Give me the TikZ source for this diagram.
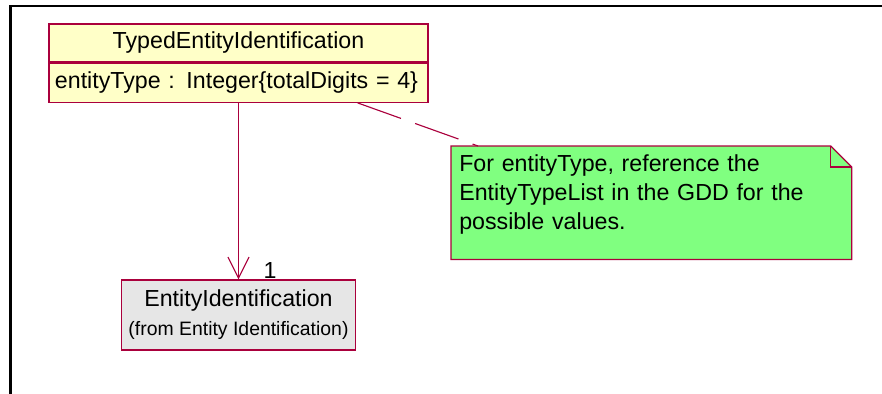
\documentclass[tikz,border=0pt]{standalone}
\usepackage[table]{xcolor}
\usepackage{tikz}
\usepackage{fontspec}
\setmainfont{Liberation Sans}
\usetikzlibrary{arrows,arrows.meta,backgrounds,calc,positioning,fit}
\definecolor{umlred}{RGB}{170,0,60}
\definecolor{classyellow}{RGB}{255,255,200}
\definecolor{notegreen}{RGB}{128,255,128}
\definecolor{pkggrey}{RGB}{230,230,230}

\begin{document}
\begin{tikzpicture}[x=0.025cm,y=-0.025cm,
  umlfont/.style={font=\fontsize{16.5}{20.6}\selectfont},
  classbox/.style={draw=umlred,line width=0.9pt,fill=classyellow,minimum width=9.475cm,inner sep=0pt,umlfont},
  entbox/.style={draw=umlred,line width=0.9pt,fill=pkggrey,minimum width=5.85cm,minimum height=1.75cm,inner sep=0pt,align=center,umlfont},
  assoc/.style={draw=umlred,line width=0.8pt,-{Straight Barb[length=0.525cm,width=0.525cm]}},
  notebox/.style={minimum width=10cm,minimum height=2.825cm,inner sep=0pt},
  noteline/.style={draw=umlred,line width=0.9pt},
  notetext/.style={inner sep=0pt,text width=9.6cm,align=left,umlfont},
  notelink/.style={draw=umlred,line width=0.8pt,dash pattern=on 1.15cm off 0.375cm}]
\useasboundingbox (0,0) rectangle (882,394);
\draw[line width=2pt] (882,6) -- (10.5,6) -- (10.5,394);
\node[classbox,minimum height=0.95cm] (title) at (238.5,43) {TypedEntityIdentification};
\node[classbox,minimum height=0.975cm,anchor=north,text width=9.175cm,align=left,inner xsep=0.15cm] (attr) at (title.south) {entityType : Integer\{totalDigits = 4\}};
\node[entbox] (ent) at (238.5,315) {EntityIdentification\\{\fontsize{13.8}{16}\selectfont (from Entity Identification)}};
\draw[assoc] (attr.south) -- (ent.north);
\node[umlfont] (one) at (270,270.5) {1};
\node[notebox,anchor=north west] (note) at (451,146) {};
\draw[noteline,fill=notegreen] (note.north west) -- ([xshift=-0.525cm]note.north east) -- ([yshift=-0.525cm]note.north east) -- (note.south east) -- (note.south west) -- cycle;
\draw[noteline] ([xshift=-0.525cm]note.north east) |- ([yshift=-0.525cm]note.north east);
\node[notetext,anchor=north west] (notetxt) at (459,154) {For entityType, reference the\\EntityTypeList in the GDD for the\\possible values.};
\draw[notelink] ([xshift=-1.775cm]attr.south east) -- ([xshift=0.675cm]note.north west);
\end{tikzpicture}
\end{document}
